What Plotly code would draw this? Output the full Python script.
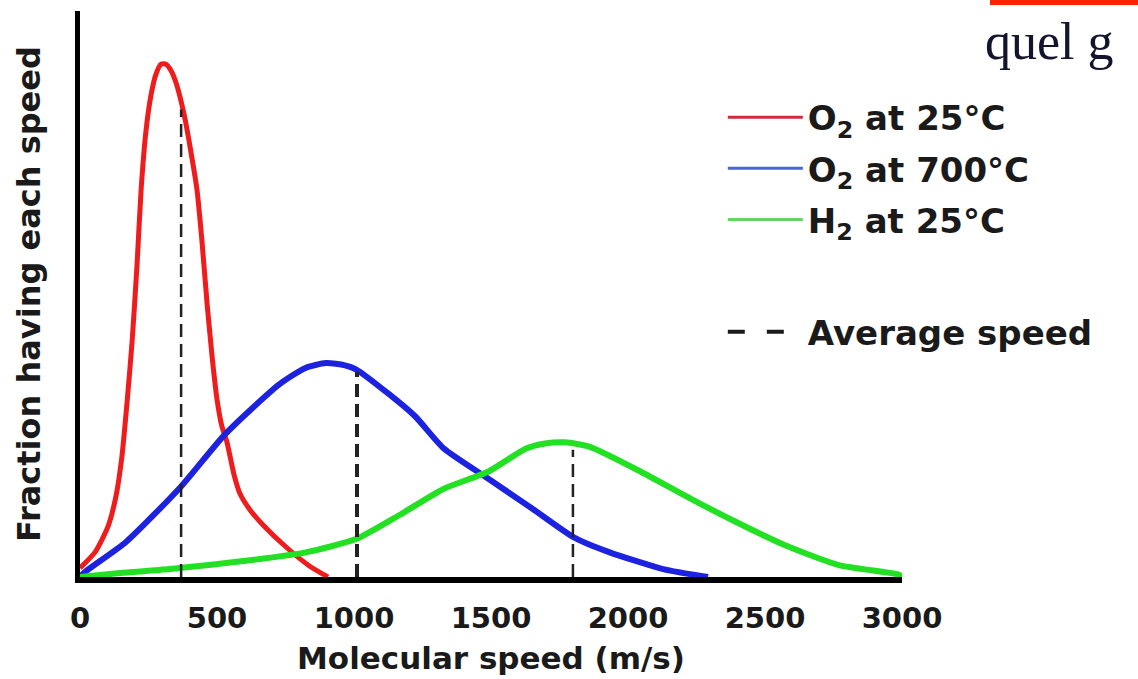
import plotly.graph_objects as go

# ---------------- data ----------------
o2_25_x = [0, 55, 102, 131, 153, 172, 190, 208, 223, 241, 259, 277, 296, 314, 332, 350,
           380, 401, 427, 445, 464, 482, 500, 518, 536, 562, 584, 620, 668, 752, 836, 905]
o2_25_y = [0.016, 0.044, 0.089, 0.142, 0.213, 0.310, 0.415, 0.550, 0.684, 0.789, 0.851, 0.888,
           0.906, 0.906, 0.895, 0.874, 0.817, 0.762, 0.684, 0.594, 0.482, 0.390, 0.314, 0.266,
           0.239, 0.181, 0.147, 0.119, 0.092, 0.053, 0.020, 0.0]

o2_700_x = [0, 18, 168, 369, 529, 726, 821, 898, 967, 1007, 1128, 1223, 1328, 1489, 1650,
            1799, 1931, 2128, 2292]
o2_700_y = [0.0, 0.009, 0.062, 0.160, 0.252, 0.340, 0.369, 0.378, 0.374, 0.367, 0.323, 0.284,
            0.227, 0.174, 0.121, 0.071, 0.044, 0.014, 0.0]

h2_25_x = [0, 146, 328, 628, 828, 1007, 1168, 1328, 1489, 1628, 1697, 1770, 1861, 2047,
           2230, 2391, 2569, 2770, 2989, 3000]
h2_25_y = [0.0, 0.007, 0.014, 0.030, 0.044, 0.067, 0.110, 0.156, 0.186, 0.227, 0.236, 0.238,
           0.230, 0.186, 0.138, 0.098, 0.057, 0.021, 0.004, 0.0]

avg_speed = [369, 1011, 1799]          # m/s
avg_top = [0.826, 0.362, 0.225]        # height reached by each dashed line

series_names = ["O<sub>2</sub> at 25°C", "O<sub>2</sub> at 700°C", "H<sub>2</sub> at 25°C"]
avg_name = "Average speed"
x_ticks = [0, 500, 1000, 1500, 2000, 2500, 3000]
x_title = "Molecular speed (m/s)"
y_title = "Fraction having each speed"
corner_text = "quel g"

# ---------------- figure ----------------
colors = ["#ee1c1c", "#1c22e0", "#22e022"]
legend_colors = ["#d22a3c", "#4a66d2", "#66d466"]
widths = [5, 6, 6]
curves = [(o2_25_x, o2_25_y), (o2_700_x, o2_700_y), (h2_25_x, h2_25_y)]

fig = go.Figure()

for i, ((xs, ys), name) in enumerate(zip(curves, series_names)):
    fig.add_trace(go.Scatter(
        x=xs, y=ys, name=name, mode="lines",
        line=dict(color=colors[i], width=widths[i], shape="spline", smoothing=0.6),
        legendgroup=f"g{i}", showlegend=False, hoverinfo="skip",
    ))
    # legend entry (thin line as in the reference key)
    fig.add_trace(go.Scatter(
        x=[None], y=[None], name=name, mode="lines",
        line=dict(color=legend_colors[i], width=3),
        legendgroup=f"g{i}", showlegend=True, hoverinfo="skip", legend="legend",
    ))

avg_widths = [2.5, 4, 2.5]
for i, (sx, top) in enumerate(zip(avg_speed, avg_top)):
    fig.add_trace(go.Scatter(
        x=[sx, sx], y=[0, top], name=avg_name, mode="lines",
        line=dict(color="#222222", width=avg_widths[i], dash="13px,7px"),
        legendgroup="avg", showlegend=False, hoverinfo="skip",
    ))
fig.add_trace(go.Scatter(
    x=[None], y=[None], name=avg_name, mode="lines",
    line=dict(color="#1a1a1a", width=4, dash="17px,22px"),
    legendgroup="avg", showlegend=True, hoverinfo="skip", legend="legend2",
))

font_main = "DejaVu Sans"
legend_font = dict(family=font_main, size=34, color="#1a1a1a", weight="bold")

fig.update_layout(
    width=1138, height=679,
    margin=dict(l=80, r=236, t=11, b=102, pad=0),
    paper_bgcolor="white", plot_bgcolor="white",
    showlegend=True,
    legend=dict(
        x=0.782, xanchor="left", y=0.863, yanchor="top",
        font=legend_font, bgcolor="rgba(0,0,0,0)", borderwidth=0,
        tracegroupgap=4, itemwidth=75, traceorder="grouped",
    ),
    legend2=dict(
        x=0.782, xanchor="left", y=0.484, yanchor="top",
        font=legend_font, bgcolor="rgba(0,0,0,0)", borderwidth=0,
        itemwidth=75,
    ),
    xaxis=dict(
        range=[0, 3000], tickvals=x_ticks, ticktext=[str(t) for t in x_ticks],
        showgrid=False, zeroline=False, ticks="", ticklabelstandoff=10,
        showline=True, linecolor="black", linewidth=6, automargin=False,
        tickfont=dict(family=font_main, size=29, color="#1a1a1a", weight="bold"),
        title=dict(text=x_title, standoff=16,
                   font=dict(family=font_main, size=31, color="#1a1a1a", weight="bold")),
    ),
    yaxis=dict(
        range=[0, 1], showgrid=False, zeroline=False, ticks="", showticklabels=False,
        showline=True, linecolor="black", linewidth=5, automargin=False,
        title=dict(text=y_title, standoff=26,
                   font=dict(family=font_main, size=32, color="#1a1a1a", weight="bold")),
    ),
)

# slide remnant at top right corner
fig.add_shape(type="rect", xref="paper", yref="paper",
              x0=(990 - 80) / 822, x1=(1140 - 80) / 822,
              y0=(577 - 5) / 566, y1=(577 + 1) / 566,
              line=dict(width=0), fillcolor="#ff2200")
fig.add_annotation(text=corner_text, xref="paper", yref="paper",
                   x=(983 - 80) / 822, xanchor="left",
                   y=(577 - 42) / 566, yanchor="middle",
                   showarrow=False,
                   font=dict(family="Liberation Serif", size=52, color="#14142e"))

fig.write_html("out.html", config={"displayModeBar": False},
               post_script="document.body.style.margin='0px';")
